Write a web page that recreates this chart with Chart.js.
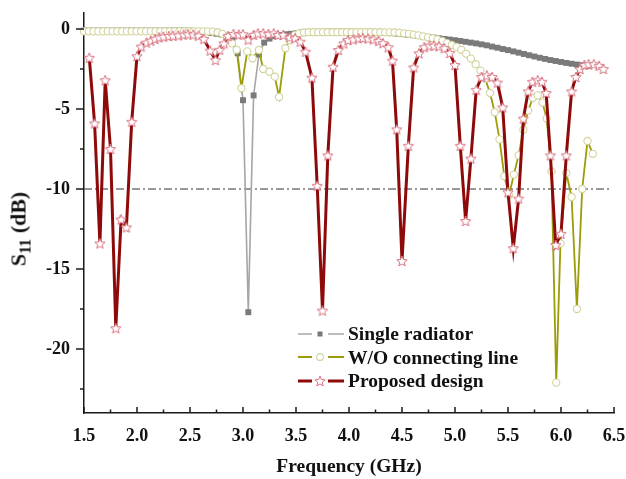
<!DOCTYPE html>
<html><head><meta charset="utf-8">
<script src="https://cdn.jsdelivr.net/npm/chart.js@4.4.1/dist/chart.umd.min.js"></script>
<style>
html,body{margin:0;padding:0;background:#fff;}
#wrap{position:relative;width:626px;height:479px;overflow:hidden;background:#fff;}
#c{position:absolute;left:0;top:0;}
.t{position:absolute;font-family:"Liberation Serif","Times New Roman",serif;font-weight:bold;color:#111;white-space:nowrap;}
#xt{left:229px;width:240px;top:454px;text-align:center;font-size:19.5px;line-height:24px;}
#yt{left:22px;top:229px;font-size:22px;line-height:26px;transform:translate(-50%,-50%) rotate(-90deg);}
#yt sub{font-size:16px;vertical-align:-5px;}
#leg{left:298px;top:322px;font-size:19.5px;}
#leg .row{height:23.5px;line-height:23px;display:flex;align-items:center;}
#leg canvas{margin-right:4px;}
</style>
</head><body>
<div id="wrap">
<canvas id="c" width="626" height="479"></canvas>
<div class="t" id="xt">Frequency (GHz)</div>
<div class="t" id="yt">S<sub>11</sub> (dB)</div>
<div class="t" id="leg"></div>
</div>
<script>
// ---------- data ----------
const seriesNames = ["Single radiator", "W/O connecting line", "Proposed design"];

const radFreq = [1.50,1.55,1.60,1.65,1.70,1.75,1.80,1.85,1.90,1.95,2.00,2.05,2.10,2.15,2.20,2.25,2.30,2.35,2.40,2.45,
 2.50,2.55,2.60,2.65,2.70,2.75,2.80,2.85,2.90,2.95,3.00,3.05,3.10,3.15,3.20,3.25,3.30,3.35,3.40,3.45,3.50,
 3.55,3.60,3.65,3.70,3.75,3.80,3.85,3.90,3.95,4.00,4.05,4.10,4.15,4.20,4.25,4.30,4.35,4.40,4.45,4.50,
 4.55,4.60,4.65,4.70,4.75,4.80,4.85,4.90,4.95,5.00,5.05,5.10,5.15,5.20,5.25,5.30,5.35,5.40,5.45,5.50,
 5.55,5.60,5.65,5.70,5.75,5.80,5.85,5.90,5.95,6.00,6.05,6.10,6.15,6.20,6.25];
const radS11 = [-0.1,-0.1,-0.1,-0.1,-0.1,-0.1,-0.1,-0.1,-0.1,-0.1,-0.1,-0.1,-0.1,-0.1,-0.1,-0.1,-0.1,-0.1,-0.1,-0.1,
 -0.1,-0.12,-0.15,-0.2,-0.25,-0.3,-0.35,-0.42,-0.6,-1.52,-4.45,-17.7,-4.15,-1.6,-0.85,-0.6,-0.45,-0.38,-0.33,-0.3,-0.27,
 -0.22,-0.2,-0.2,-0.18,-0.18,-0.17,-0.17,-0.17,-0.17,-0.17,-0.18,-0.18,-0.19,-0.2,-0.21,-0.22,-0.24,-0.26,-0.29,-0.32,
 -0.35,-0.38,-0.42,-0.46,-0.5,-0.54,-0.58,-0.62,-0.66,-0.7,-0.75,-0.8,-0.85,-0.9,-0.96,-1.02,-1.1,-1.17,-1.25,-1.32,
 -1.4,-1.48,-1.56,-1.64,-1.72,-1.8,-1.87,-1.94,-2.0,-2.06,-2.12,-2.17,-2.22,-2.26,-2.3];

const wolFreq = [1.500,1.545,1.590,1.635,1.680,1.725,1.770,1.815,1.860,1.905,1.950,1.995,2.040,2.085,2.130,2.175,2.220,2.265,2.310,2.355,2.400,2.445,2.490,2.535,2.580,2.625,2.670,2.715,2.760,
 2.805,2.850,2.895,2.940,2.985,3.04,3.09,3.15,3.19,3.25,3.30,3.34,3.40,3.44,3.49,3.53,
 3.575,3.620,3.665,3.710,3.755,3.800,3.845,3.890,3.935,3.980,4.025,4.070,4.115,4.160,4.205,4.250,4.295,4.340,4.385,4.430,
 4.475,4.520,4.565,4.610,4.655,4.700,4.745,4.790,4.835,4.880,4.925,4.970,5.015,5.060,5.105,5.150,5.195,5.240,5.285,5.330,
 5.375,5.420,5.465,5.510,5.555,5.600,5.645,5.690,5.735,5.780,5.825,5.865,5.910,5.955,5.995,6.05,6.10,6.15,6.20,6.25,6.30];
const wolS11 = [-0.15,-0.15,-0.15,-0.15,-0.15,-0.15,-0.15,-0.15,-0.15,-0.15,-0.15,-0.15,-0.15,-0.15,-0.15,-0.15,-0.15,-0.15,-0.15,-0.15,-0.15,-0.15,-0.15,-0.15,-0.15,-0.15,-0.15,-0.16,-0.2,
 -0.3,-0.5,-0.9,-1.3,-3.7,-1.4,-1.83,-1.31,-2.5,-2.67,-2.98,-4.25,-1.2,-0.7,-0.37,-0.27,
 -0.22,-0.2,-0.2,-0.2,-0.2,-0.2,-0.2,-0.2,-0.2,-0.2,-0.2,-0.2,-0.2,-0.2,-0.2,-0.2,-0.2,-0.21,-0.21,-0.22,
 -0.24,-0.27,-0.3,-0.35,-0.4,-0.46,-0.52,-0.58,-0.65,-0.75,-0.88,-1.0,-1.12,-1.3,-1.55,-1.85,-2.2,-2.6,-3.1,-4.0,
 -5.2,-6.9,-9.2,-10.4,-9.1,-7.9,-6.3,-5.1,-4.3,-4.15,-4.6,-5.6,-8.9,-22.1,-13.4,-9.0,-10.5,-17.5,-10.0,-7.0,-7.8];

const propFreq = [1.55,1.60,1.65,1.70,1.75,1.80,1.85,1.90,1.95,2.00,
 2.04,2.09,2.13,2.17,2.21,2.25,2.30,2.34,2.39,2.44,2.48,
 2.53,2.58,2.63,2.69,2.74,2.78,2.82,2.86,2.91,2.96,3.00,
 3.05,3.10,3.14,3.19,3.24,3.29,3.33,3.38,3.44,3.49,3.54,3.59,3.65,
 3.70,3.75,3.80,3.85,3.90,3.95,3.99,
 4.04,4.09,4.13,4.18,4.23,4.28,4.32,4.37,4.41,4.45,4.50,
 4.56,4.61,4.66,4.71,4.76,4.80,4.85,4.90,4.95,5.00,
 5.05,5.10,5.15,5.20,5.25,5.30,5.35,5.40,5.45,5.50,
 5.55,5.60,5.645,5.69,5.73,5.78,5.82,5.86,5.90,5.95,
 6.00,6.05,6.10,6.14,6.18,6.22,6.26,6.31,6.36,6.40];
const propS11 = [-1.8,-5.9,-13.4,-3.2,-7.5,-18.7,-11.9,-12.4,-5.8,-1.7,
 -1.1,-0.85,-0.73,-0.62,-0.52,-0.48,-0.44,-0.42,-0.40,-0.35,-0.33,
 -0.35,-0.42,-0.62,-1.35,-1.94,-1.3,-0.9,-0.44,-0.31,-0.35,-0.33,
 -0.67,-0.37,-0.27,-0.27,-0.31,-0.27,-0.37,-0.37,-0.52,-0.58,-0.79,-1.42,-3.04,
 -9.8,-17.6,-7.9,-2.36,-1.31,-0.9,-0.69,
 -0.65,-0.58,-0.56,-0.6,-0.65,-0.75,-0.89,-1.14,-1.98,-6.27,-14.5,
 -7.3,-2.4,-1.52,-1.14,-1.04,-1.04,-1.08,-1.2,-1.5,-2.25,
 -7.3,-12.0,-8.1,-3.8,-3.0,-2.9,-3.0,-3.35,-4.9,-10.2,
 -13.7,-10.6,-5.6,-3.9,-3.3,-3.2,-3.3,-4.0,-7.9,-13.5,
 -12.8,-7.9,-3.9,-3.0,-2.5,-2.25,-2.2,-2.2,-2.3,-2.5];

const refLineFreq = [1.5, 6.46];
const refLineS11 = [-10, -10];

const xTickValues = [1.5,2.0,2.5,3.0,3.5,4.0,4.5,5.0,5.5,6.0,6.5];
const xTickLabels = ["1.5","2.0","2.5","3.0","3.5","4.0","4.5","5.0","5.5","6.0","6.5"];
const xMinorTicks = [1.75,2.25,2.75,3.25,3.75,4.25,4.75,5.25,5.75,6.25];
const yTickValues = [-20,-15,-10,-5,0];
const yTickLabels = ["-20","-15","-10","-5","0"];
const yMinorTicks = [-22.5,-17.5,-12.5,-7.5,-2.5];

// ---------- styles ----------
const FONT = '"Liberation Serif","Times New Roman",serif';
const colors = {
  rad: {line:'#a6a6a6', mark:'#7a7a7a'},
  wol: {line:'#9c9c08', mark:'#d2d29a'},
  prop:{line:'#8e0a0a', mark:'#d9707e'}
};
function makeStar(r, stroke, fill){
  const s = Math.ceil(r*2+3);
  const c = document.createElement('canvas'); c.width = s; c.height = s;
  const g = c.getContext('2d');
  g.beginPath();
  for (let i=0;i<10;i++){
    const a = -Math.PI/2 + i*Math.PI/5;
    const rr = (i%2) ? r*0.45 : r;
    g.lineTo(s/2 + rr*Math.cos(a), s/2 + 0.5 + rr*Math.sin(a));
  }
  g.closePath(); g.fillStyle = fill; g.fill();
  g.strokeStyle = stroke; g.lineWidth = 1; g.stroke();
  return c;
}
const starImg = makeStar(5.4, colors.prop.mark, '#fff');

function pts(xs, ys){ return xs.map((x,i)=>({x:x, y:ys[i]})); }

const tickPlugin = {
  id:'axisTicks',
  afterDraw(chart){
    const {ctx, scales:{x, y}} = chart;
    ctx.save();
    ctx.strokeStyle = '#1a1a1a'; ctx.lineWidth = 1.5;
    const yb = y.bottom, xl = x.left;
    ctx.beginPath();
    xTickValues.forEach(v=>{const p=x.getPixelForValue(v); ctx.moveTo(p,yb); ctx.lineTo(p,yb-6);});
    xMinorTicks.forEach(v=>{const p=x.getPixelForValue(v); ctx.moveTo(p,yb); ctx.lineTo(p,yb-3.5);});
    yTickValues.forEach(v=>{const p=y.getPixelForValue(v); ctx.moveTo(xl-8,p); ctx.lineTo(xl,p);});
    yMinorTicks.forEach(v=>{const p=y.getPixelForValue(v); ctx.moveTo(xl-4,p); ctx.lineTo(xl,p);});
    ctx.stroke();
    ctx.restore();
  }
};

new Chart(document.getElementById('c'), {
  type:'line',
  data:{
    datasets:[
      {label:seriesNames[2], data:pts(propFreq, propS11), order:0,
       borderColor:colors.prop.line, borderWidth:3, pointStyle:starImg, pointRadius:5, tension:0, clip:false},
      {label:seriesNames[1], data:pts(wolFreq, wolS11), order:1,
       borderColor:colors.wol.line, borderWidth:1.8, pointStyle:'circle', pointRadius:3.6,
       pointBorderColor:colors.wol.mark, pointBackgroundColor:'#fff', pointBorderWidth:1.1, tension:0, clip:false},
      {label:seriesNames[0], data:pts(radFreq, radS11), order:2,
       borderColor:colors.rad.line, borderWidth:1.6, pointStyle:'rect', pointRadius:4.2,
       pointBorderColor:colors.rad.mark, pointBackgroundColor:colors.rad.mark, pointBorderWidth:0, tension:0, clip:false},
      {label:'-10 dB', data:pts(refLineFreq, refLineS11), order:5,
       borderColor:'#333', borderWidth:1, borderDash:[8,3,2,3], pointRadius:0, tension:0}
    ]
  },
  options:{
    responsive:false, animation:false, devicePixelRatio:1,
    layout:{padding:{left:0, top:13, right:12, bottom:0}},
    plugins:{legend:{display:false}, tooltip:{enabled:false}},
    elements:{point:{hoverRadius:0}},
    scales:{
      x:{type:'linear', min:1.5, max:6.5,
         afterBuildTicks:s=>{s.ticks = xTickValues.map(v=>({value:v}));},
         afterFit:s=>{s.height = 66; s.paddingLeft = 0; s.paddingRight = 0;},
         grid:{display:false, drawTicks:false},
         border:{display:true, color:'#1a1a1a', width:1.5},
         ticks:{padding:13, color:'#111', maxRotation:0, autoSkip:false,
                font:{family:FONT, size:18, weight:'bold'},
                callback:(v,i)=>xTickLabels[i]}},
      y:{type:'linear', min:-24, max:1,
         afterBuildTicks:s=>{s.ticks = yTickValues.map(v=>({value:v}));},
         afterFit:s=>{s.width = 84; s.paddingTop = 0; s.paddingBottom = 0;},
         grid:{display:false, drawTicks:false},
         border:{display:true, color:'#1a1a1a', width:1.5},
         ticks:{padding:14, color:'#111', autoSkip:false,
                font:{family:FONT, size:18, weight:'bold'},
                callback:(v,i)=>yTickLabels[i]}}
    }
  },
  plugins:[tickPlugin]
});

// ---------- HTML legend ----------
const leg = document.getElementById('leg');
const legStyles = [
  {line:colors.rad.line, lw:1.6, mark:'rect'},
  {line:colors.wol.line, lw:1.8, mark:'circle'},
  {line:colors.prop.line, lw:3, mark:'star'}
];
seriesNames.forEach((name, i)=>{
  const row = document.createElement('div'); row.className='row';
  const cv = document.createElement('canvas'); cv.width = 46; cv.height = 14;
  const g = cv.getContext('2d'); const st = legStyles[i];
  g.strokeStyle = st.line; g.lineWidth = st.lw;
  g.beginPath(); g.moveTo(0,7); g.lineTo(14,7); g.moveTo(30,7); g.lineTo(46,7); g.stroke();
  if (st.mark==='rect'){ g.fillStyle = colors.rad.mark; g.fillRect(19.5,4.5,5,5); }
  else if (st.mark==='circle'){ g.beginPath(); g.arc(22,7,3.4,0,Math.PI*2); g.fillStyle='#fff'; g.fill(); g.strokeStyle=colors.wol.mark; g.lineWidth=1.1; g.stroke(); }
  else { g.drawImage(starImg, 22-starImg.width/2, 7-starImg.height/2); }
  const sp = document.createElement('span'); sp.textContent = name;
  row.appendChild(cv); row.appendChild(sp); leg.appendChild(row);
});
</script>
</body></html>
